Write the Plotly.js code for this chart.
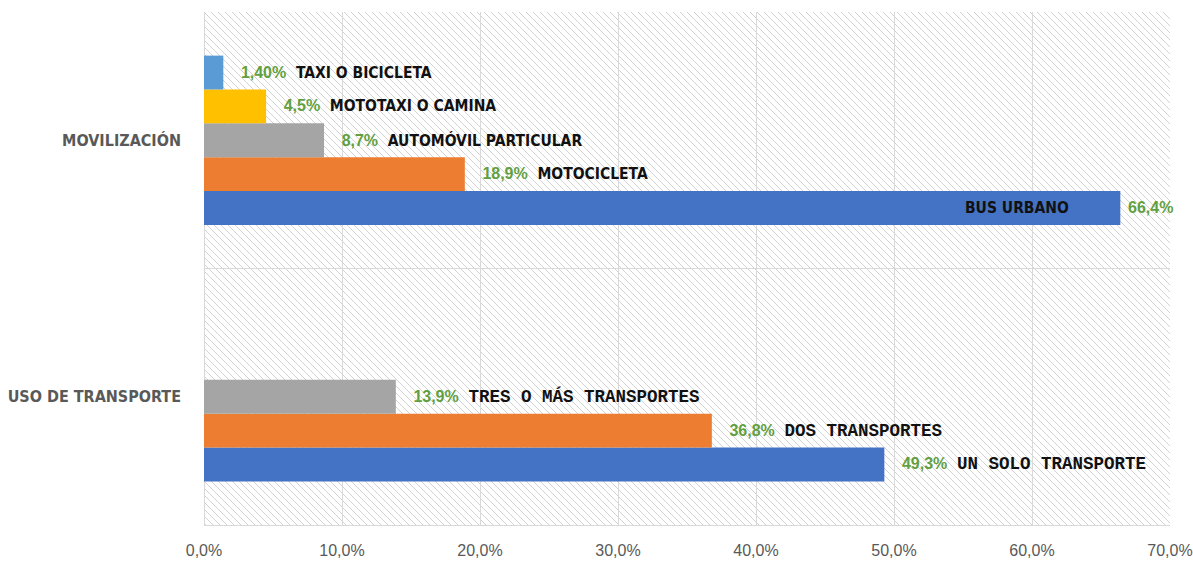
<!DOCTYPE html>
<html>
<head>
<meta charset="utf-8">
<script src="https://cdn.plot.ly/plotly-3.0.1.min.js"></script>
<style>
  html, body { margin: 0; padding: 0; background: #fff; }
  #chart { width: 1193px; height: 573px; }
</style>
</head>
<body>
<div id="chart"></div>
<script>
// categorías (de abajo hacia arriba, como en Excel)
const categories = ['USO DE TRANSPORTE', 'MOVILIZACIÓN'];

// una serie por posición dentro del grupo
const seriesValues = [
    [49.3, 66.4],
    [36.8, 18.9],
    [13.9, 8.7],
    [null, 4.5],
    [null, 1.4]
];
const seriesValueText = [
    ['49,3%', '66,4%'],
    ['36,8%', '18,9%'],
    ['13,9%', '8,7%'],
    ['', '4,5%'],
    ['', '1,40%']
];
const seriesNames = [
    ['UN SOLO TRANSPORTE', 'BUS URBANO'],
    ['DOS TRANSPORTES', 'MOTOCICLETA'],
    ['TRES O MÁS TRANSPORTES', 'AUTOMÓVIL PARTICULAR'],
    ['', 'MOTOTAXI O CAMINA'],
    ['', 'TAXI O BICICLETA']
];
const seriesColors = ['#4472C4', '#ED7D31', '#A5A5A5', '#FFC000', '#5B9BD5'];

const sans = '"Liberation Sans", Arial, sans-serif';
const cond = '"DejaVu Sans Condensed", "Liberation Sans", sans-serif';
const mono = "'Liberation Mono', 'DejaVu Sans Mono', monospace";
const green = '#62A03F';
const NB = '\u00a0';
const BAR_GAP = 0.34;

function labelFor(value, name, isUso) {
    const nameStyle = isUso ? 'font-family:' + mono + ';font-size:17.5px' : 'font-size:15.5px';
    return NB + NB + NB + '<span style="color:' + green + ';font-family:' + sans.replace(/"/g, "'") +
        ';font-size:16px">' + value + '</span>' +
        NB + NB + '<span style="' + nameStyle + '">' + name + '</span>';
}

const traces = seriesValues.map((vals, s) => {
    const text = vals.map((v, i) => {
        if (v === null) return '';
        // BUS URBANO: nombre dentro de la barra, valor fuera (anotación)
        if (s === 0 && i === 1) return seriesNames[s][i] + NB.repeat(10);
        return labelFor(seriesValueText[s][i], seriesNames[s][i], i === 0);
    });
    const tf = { family: cond, size: 15.5, color: '#111', weight: 'bold' };
    return {
        type: 'bar',
        orientation: 'h',
        y: categories,
        x: vals,
        marker: { color: seriesColors[s] },
        text: text,
        textposition: vals.map((v, i) => (s === 0 && i === 1) ? 'inside' : 'outside'),
        insidetextanchor: 'end',
        textangle: 0,
        constraintext: 'none',
        cliponaxis: false,
        textfont: tf,
        insidetextfont: tf,
        outsidetextfont: tf,
        hoverinfo: 'x+y',
        showlegend: false
    };
});

// posición de la barra azul dentro del grupo MOVILIZACIÓN
const groupW = 1 - BAR_GAP;
const blueOffset = -groupW / 2 + groupW / seriesValues.length / 2;

// fondo rayado del área de trazado
const plotW = 1193 - 204 - 23, plotH = 573 - 12 - 48;
const hatch = '<svg xmlns="http://www.w3.org/2000/svg" width="' + plotW + '" height="' + plotH + '">' +
    '<defs><pattern id="h" patternUnits="userSpaceOnUse" width="7" height="7">' +
    '<path d="M-1,-1 L8,8 M-1,6 L1,8 M6,-1 L8,1" stroke="#d2d2d2" stroke-width="1"/></pattern></defs>' +
    '<rect width="100%" height="100%" fill="url(#h)"/></svg>';

const layout = {
    width: 1193,
    height: 573,
    margin: { l: 204, r: 23, t: 12, b: 48 },
    paper_bgcolor: '#fff',
    plot_bgcolor: '#fff',
    separators: ',.',
    barmode: 'group',
    bargap: BAR_GAP,
    bargroupgap: 0,
    xaxis: {
        range: [0, 70],
        dtick: 10,
        tick0: 0,
        tickformat: '.1f',
        ticksuffix: '%',
        showgrid: true,
        gridcolor: '#d9d9d9',
        zeroline: true,
        zerolinecolor: '#d9d9d9',
        showline: true,
        linecolor: '#d9d9d9',
        ticks: '',
        ticklabelstandoff: 11,
        tickfont: { family: sans, size: 16, color: '#595959' },
        fixedrange: true
    },
    yaxis: {
        type: 'category',
        categoryorder: 'array',
        categoryarray: categories,
        range: [-0.5, 1.5],
        showgrid: false,
        zeroline: false,
        showline: false,
        ticks: '',
        ticklabelstandoff: 22,
        tickfont: { family: cond, size: 16, color: '#595959', weight: 'bold' },
        fixedrange: true
    },
    images: [{
        source: 'data:image/svg+xml;charset=utf-8,' + encodeURIComponent(hatch),
        xref: 'paper', yref: 'paper',
        x: 0, y: 1, sizex: 1, sizey: 1,
        xanchor: 'left', yanchor: 'top',
        sizing: 'stretch',
        layer: 'below'
    }],
    shapes: [{
        type: 'line',
        xref: 'paper', yref: 'y',
        x0: 0, x1: 1, y0: 0.5, y1: 0.5,
        line: { color: '#d9d9d9', width: 1 },
        layer: 'below'
    }],
    annotations: [{
        xref: 'x', yref: 'y',
        x: seriesValues[0][1],
        y: 1 + blueOffset,
        text: seriesValueText[0][1],
        showarrow: false,
        xanchor: 'left',
        xshift: 6,
        font: { family: sans, size: 16, color: green, weight: 'bold' }
    }]
};

Plotly.newPlot('chart', traces, layout, { displayModeBar: false, staticPlot: true });
</script>
</body>
</html>
